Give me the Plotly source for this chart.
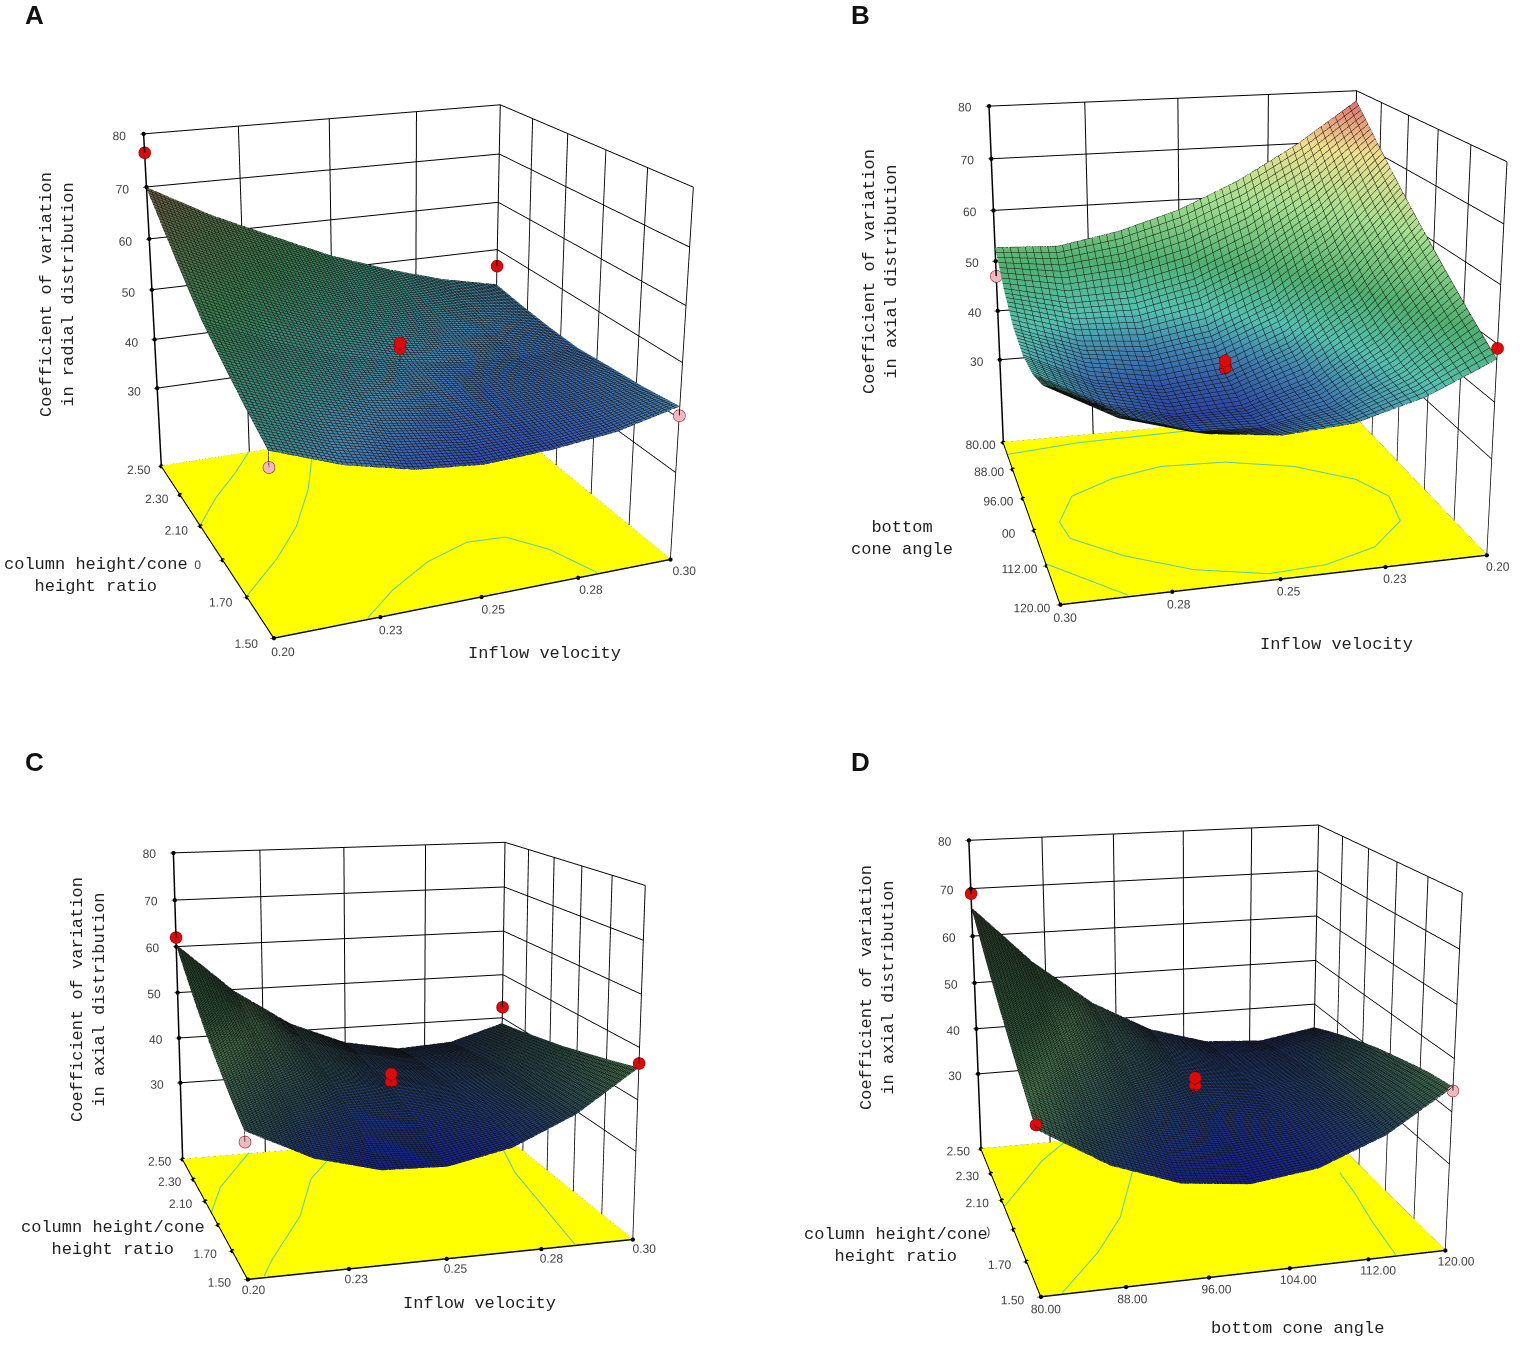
"""
Four response surface panels (A-D) drawn as 3D scenes on one page.
"""
import math
import plotly.graph_objects as go

WIDTH = 1535
HEIGHT = 1349
# scenes need a long focal length, so the plot runs past the window top and bottom
PAD_TOP = 360
PAD_BOTTOM = 370
SCENE_H = 1350
FULL_H = HEIGHT + PAD_TOP + PAD_BOTTOM

Z_TICKS = [30, 40, 50, 60, 70, 80]
Z_TEXT = ["30", "40", "50", "60", "70", "80"]

VEL_TICKS = [0.20, 0.225, 0.25, 0.275, 0.30]
VEL_TEXT = ["0.20", "0.23", "0.25", "0.28", "0.30"]
RATIO_TICKS = [1.5, 1.7, 1.9, 2.1, 2.3, 2.5]
ANGLE_TICKS = [80, 88, 96, 104, 112, 120]

RED = "#dd0a0a"
PINK = "#f2b8c0"

# panel A
a_x = [0.20, 0.2167, 0.2333, 0.25, 0.2667, 0.2833, 0.30]
a_y = [1.5, 1.667, 1.833, 2.0, 2.167, 2.333, 2.5]
a_z = [
    [45.8, 41.4, 38.6, 37.5, 38.1, 39.4, 42.2],
    [48.6, 44.1, 41.0, 39.3, 39.1, 39.8, 41.4],
    [51.8, 47.1, 43.4, 41.1, 40.0, 40.0, 41.0],
    [55.2, 49.9, 45.8, 42.8, 41.0, 40.2, 40.5],
    [59.9, 54.4, 49.6, 46.0, 43.2, 41.5, 40.9],
    [64.8, 58.8, 53.6, 49.1, 45.7, 43.2, 41.6],
    [69.9, 63.4, 58.0, 52.7, 48.5, 45.0, 42.5],
]
a_pts_x = [0.20, 0.30, 0.25, 0.25, 0.30, 0.20]
a_pts_y = [2.5, 2.5, 2.0, 2.0, 1.5, 1.5]
a_pts_z = [76.5, 46.5, 46.4, 45.4, 40.5, 43.0]
a_surf_z = [69.9, 42.5, 42.8, 42.8, 42.2, 45.8]
a_pts_color = [RED, RED, RED, RED, PINK, PINK]
a_lines = [
    ([0.225, 0.217, 0.208, 0.20], [2.5, 2.37, 2.24, 2.1]),
    ([0.20, 0.212, 0.222, 0.232, 0.24, 0.247], [1.7, 1.85, 2.0, 2.2, 2.4, 2.5]),
    ([0.222, 0.232, 0.245, 0.258, 0.268, 0.275, 0.28], [1.5, 1.6, 1.7, 1.76, 1.75, 1.65, 1.5]),
]

# panel B
b_x = [0.30, 0.2833, 0.2667, 0.25, 0.2333, 0.2167, 0.20]
b_y = [120, 113.3, 106.7, 100, 93.3, 86.7, 80]
b_z = [
    [49.0, 42.9, 39.1, 37.7, 38.6, 42.0, 47.4],
    [45.2, 38.5, 35.0, 34.6, 37.3, 43.1, 51.9],
    [43.1, 36.6, 33.5, 34.0, 38.0, 45.6, 56.6],
    [42.6, 36.9, 34.7, 36.0, 41.0, 49.5, 61.6],
    [44.0, 39.7, 38.6, 40.7, 46.1, 54.8, 66.8],
    [47.5, 44.8, 45.1, 48.0, 53.5, 61.7, 72.3],
    [52.7, 52.2, 54.4, 58.0, 63.2, 69.9, 78.0],
]
b_pts_x = [0.20, 0.30, 0.25, 0.25]
b_pts_y = [120, 80, 100, 100]
b_pts_z = [49.3, 47.0, 38.5, 37.1]
b_surf_z = [47.4, 52.7, 36.0, 36.0]
b_pts_color = [RED, PINK, RED, RED]
b_lines = [
    ([0.2935, 0.288, 0.276, 0.262, 0.245, 0.228, 0.215, 0.2105, 0.213, 0.224, 0.238, 0.252, 0.268, 0.282, 0.2925, 0.2935],
     [103, 97, 93.5, 91.5, 92, 95, 100, 105, 111, 116, 118.5, 119, 116.5, 112, 107, 103]),
    ([0.30, 0.28, 0.25, 0.23], [84, 82.5, 82, 82]),
    ([0.30, 0.285], [112, 120]),
]

# panel C
c_x = [0.20, 0.2167, 0.2333, 0.25, 0.2667, 0.2833, 0.30]
c_y = [1.5, 1.667, 1.833, 2.0, 2.167, 2.333, 2.5]
c_z = [
    [40.0, 33.9, 30.7, 30.3, 32.8, 38.1, 46.2],
    [42.5, 36.7, 33.3, 32.5, 34.1, 38.2, 44.6],
    [45.4, 39.4, 35.7, 34.2, 35.0, 38.0, 43.2],
    [48.6, 42.2, 37.8, 35.6, 35.5, 37.6, 41.8],
    [52.2, 44.7, 39.4, 36.3, 35.5, 37.0, 40.7],
    [56.2, 47.2, 40.7, 36.7, 35.2, 36.2, 39.6],
    [60.4, 49.6, 41.6, 36.6, 34.4, 35.1, 38.7],
]
c_pts_x = [0.20, 0.30, 0.25, 0.25, 0.30, 0.20]
c_pts_y = [2.5, 2.5, 2.0, 2.0, 1.5, 1.5]
c_pts_z = [62.0, 42.5, 38.5, 36.8, 47.0, 38.0]
c_surf_z = [60.4, 38.7, 35.6, 35.6, 46.2, 40.0]
c_pts_color = [RED, RED, RED, RED, RED, PINK]
c_lines = [
    ([0.22, 0.213, 0.206, 0.20], [2.5, 2.35, 2.2, 2.0]),
    ([0.204, 0.208, 0.222, 0.232, 0.243], [1.5, 1.6, 1.9, 2.2, 2.4]),
    ([0.284, 0.287, 0.29, 0.296], [1.5, 1.8, 2.1, 2.4]),
]

# panel D
d_x = [80, 86.67, 93.33, 100, 106.67, 113.33, 120]
d_y = [1.5, 1.667, 1.833, 2.0, 2.167, 2.333, 2.5]
d_z = [
    [43.7, 36.0, 31.4, 30.0, 31.7, 36.7, 44.7],
    [47.0, 39.0, 34.0, 32.1, 33.0, 37.0, 43.9],
    [50.4, 42.0, 36.5, 33.7, 33.8, 36.7, 42.5],
    [54.0, 44.9, 38.5, 35.0, 34.2, 36.3, 41.0],
    [57.8, 47.8, 40.5, 36.0, 34.3, 35.3, 39.1],
    [61.8, 50.8, 42.3, 36.8, 34.0, 34.2, 37.0],
    [66.0, 53.5, 43.8, 37.0, 33.3, 32.5, 34.6],
]
d_pts_x = [80, 80, 100, 100, 120]
d_pts_y = [2.5, 1.5, 2.0, 2.0, 1.5]
d_pts_z = [69.0, 44.5, 37.8, 36.2, 44.0]
d_surf_z = [66.0, 43.7, 35.0, 35.0, 44.7]
d_pts_color = [RED, RED, RED, RED, PINK]
d_lines = [
    ([90, 86, 83, 80], [2.5, 2.35, 2.2, 2.05]),
    ([82, 87, 91, 95, 97, 98], [1.5, 1.7, 1.9, 2.2, 2.4, 2.5]),
    ([114.8, 115.5, 116.5, 117], [1.5, 1.7, 1.9, 2.05]),
]

A_SCALE = [
    [0.0, "#2438b0"], [0.15, "#2f4ab0"], [0.24, "#4a85ad"], [0.33, "#3f8a85"],
    [0.5, "#3a8050"], [0.7, "#5a6a45"], [0.84, "#7a5a45"], [1.0, "#a04a40"],
]
B_SCALE = [
    [0.0, "#20309a"], [0.06, "#2a3fa0"], [0.16, "#3f7fb0"], [0.26, "#55c0b0"],
    [0.4, "#50b070"], [0.6, "#a5e090"], [0.8, "#f0e090"], [0.96, "#e07070"], [1.0, "#e06060"],
]
CD_SCALE = [
    [0.0, "#151f90"], [0.1, "#1f3a70"], [0.16, "#284a58"], [0.32, "#4a7a50"],
    [0.4, "#2f5a3a"], [0.6, "#2a4a30"], [0.72, "#3a4030"], [1.0, "#604030"],
]
TEXT_FONT = dict(family="Liberation Mono, monospace", size=17, color="#222222")
CONTOUR_COLOR = "#55ccaa"


def camera(theta, phi, dist, flip=False):
    t, p = math.radians(theta), math.radians(phi)
    sign = 1 if flip else -1
    return dict(
        up=dict(x=0, y=0, z=1),
        center=dict(x=0, y=0, z=0),
        eye=dict(
            x=sign * math.sin(t) * math.cos(p) * dist,
            y=sign * math.cos(t) * math.cos(p) * dist,
            z=math.sin(p) * dist,
        ),
        projection=dict(type="perspective"),
    )


def axis(lo, hi, ticks, text):
    return dict(
        range=[lo, hi],
        tickvals=ticks,
        ticktext=text,
        tickangle=0,
        title=dict(text=""),
        showgrid=True,
        gridcolor="#000000",
        gridwidth=2,
        showline=True,
        linecolor="#000000",
        linewidth=3,
        zeroline=False,
        showbackground=False,
        showspikes=False,
        ticks="outside",
        ticklen=3,
        tickcolor="#000000",
        tickfont=dict(family="Liberation Sans, Arial", size=12, color="#444444"),
    )


def add_panel(fig, name, x, y, z, pts, surf_z, pts_color, lines, floor, n_mesh, scale,
              view, cube, half_w, aspect, x_ticks, y_ticks, near):
    xlo, xhi = min(x), max(x)
    ylo, yhi = min(y), max(y)
    fig.add_trace(go.Surface(
        x=[xlo, xhi], y=[ylo, yhi], z=[[floor + 0.1, floor + 0.1], [floor + 0.1, floor + 0.1]],
        colorscale=[[0, "#ffff00"], [1, "#ffff00"]], cmin=0, cmax=100, showscale=False, hoverinfo="skip",
        lighting=dict(ambient=1, diffuse=0, specular=0, fresnel=0),
        scene=name,
    ))
    fig.add_trace(go.Surface(
        x=x, y=y, z=z, colorscale=scale, cmin=30, cmax=80, showscale=False,
        lighting=dict(ambient=0.9, diffuse=0.2, specular=0.0, fresnel=0),
        contours=dict(
            x=dict(show=True, start=xlo, end=xhi, size=(xhi - xlo) / n_mesh, color="#101010", width=1),
            y=dict(show=True, start=ylo, end=yhi, size=(yhi - ylo) / n_mesh, color="#101010", width=1),
        ),
        scene=name,
    ))
    for lx, ly in lines:
        fig.add_trace(go.Scatter3d(
            x=lx, y=ly, z=[floor + 0.3] * len(lx), mode="lines",
            line=dict(color=CONTOUR_COLOR, width=2), showlegend=False, scene=name,
        ))
    for i in range(len(pts[0])):
        fig.add_trace(go.Scatter3d(
            x=[pts[0][i]] * 2, y=[pts[1][i]] * 2, z=[pts[2][i], surf_z[i]], mode="lines",
            line=dict(color="#222222", width=1.5), showlegend=False, scene=name,
        ))
    fig.add_trace(go.Scatter3d(
        x=pts[0], y=pts[1], z=pts[2], mode="markers",
        marker=dict(size=7, color=pts_color, line=dict(color="#800000", width=1)),
        showlegend=False, scene=name,
    ))
    # black dots where the axes carry a tick
    near_x, near_y, far_y = near
    fig.add_trace(go.Scatter3d(
        x=list(x_ticks[0]) + [near_x] * len(y_ticks[0]) + [near_x] * len(Z_TICKS),
        y=[near_y] * len(x_ticks[0]) + list(y_ticks[0]) + [far_y] * len(Z_TICKS),
        z=[floor] * (len(x_ticks[0]) + len(y_ticks[0])) + Z_TICKS,
        mode="markers", marker=dict(size=2.5, color="#000000"), showlegend=False, scene=name,
    ))
    top = cube[1] + PAD_TOP - SCENE_H / 2
    return dict(
        domain=dict(
            x=[(cube[0] - half_w) / WIDTH, (cube[0] + half_w) / WIDTH],
            y=[1 - (top + SCENE_H) / FULL_H, 1 - top / FULL_H],
        ),
        bgcolor="rgba(0,0,0,0)",
        aspectmode="manual",
        aspectratio=dict(x=1, y=1, z=aspect),
        camera=view,
        xaxis=axis(xlo, xhi, x_ticks[0], x_ticks[1]),
        yaxis=axis(ylo, yhi, y_ticks[0], y_ticks[1]),
        zaxis=axis(floor, 80, Z_TICKS, Z_TEXT),
    )


fig = go.Figure()

scene_a = add_panel(
    fig, "scene", a_x, a_y, a_z, (a_pts_x, a_pts_y, a_pts_z), a_surf_z, a_pts_color, a_lines,
    13.5, 90, A_SCALE, camera(22, 19.5, 4.03), (400, 341), 400, 0.92,
    (VEL_TICKS, VEL_TEXT), (RATIO_TICKS, ["1.50", "1.70", "0", "2.10", "2.30", "2.50"]), (0.20, 1.5, 2.5),
)
scene_b = add_panel(
    fig, "scene2", b_x, b_y, b_z, (b_pts_x, b_pts_y, b_pts_z), b_surf_z, b_pts_color, b_lines,
    12.6, 50, B_SCALE, camera(14.5, 17, 4.0, flip=True), (1225, 319), 310, 0.93,
    (VEL_TICKS, VEL_TEXT), (ANGLE_TICKS, ["80.00", "88.00", "96.00", "00", "112.00", "120.00"]), (0.30, 120, 80),
)
scene_c = add_panel(
    fig, "scene3", c_x, c_y, c_z, (c_pts_x, c_pts_y, c_pts_z), c_surf_z, c_pts_color, c_lines,
    12.6, 90, CD_SCALE, camera(16, 13, 4.4), (391, 1036), 391, 0.91,
    (VEL_TICKS, VEL_TEXT), (RATIO_TICKS, ["1.50", "1.70", "", "2.10", "2.30", "2.50"]), (0.20, 1.5, 2.5),
)
scene_d = add_panel(
    fig, "scene4", d_x, d_y, d_z, (d_pts_x, d_pts_y, d_pts_z), d_surf_z, d_pts_color, d_lines,
    13.0, 90, CD_SCALE, camera(15, 16.5, 4.2), (1195, 1035), 339, 0.89,
    (ANGLE_TICKS, ["80.00", "88.00", "96.00", "104.00", "112.00", "120.00"]),
    (RATIO_TICKS, ["1.50", "1.70", ")", "2.10", "2.30", "2.50"]), (80, 1.5, 2.5),
)


def note(text, px, py, angle=0, font=TEXT_FONT):
    return dict(
        text=text, x=px / WIDTH, y=1 - (py + PAD_TOP) / FULL_H, xref="paper", yref="paper",
        showarrow=False, textangle=angle, font=font, xanchor="center", yanchor="middle", align="center",
    )


LETTER = dict(family="Liberation Sans, Arial", size=26, color="#111111")
notes = [
    note("<b>A</b>", 34, 15, font=LETTER),
    note("<b>B</b>", 860, 15, font=LETTER),
    note("<b>C</b>", 34, 762, font=LETTER),
    note("<b>D</b>", 860, 762, font=LETTER),
    note("Coefficient of variation<br>in radial distribution", 57, 295, -90),
    note("column height/cone<br>height ratio", 96, 575),
    note("Inflow velocity", 544, 653),
    note("Coefficient of variation<br>in axial distribution", 880, 272, -90),
    note("bottom<br>cone angle", 902, 539),
    note("Inflow velocity", 1336, 644),
    note("Coefficient of variation<br>in axial distribution", 88, 1000, -90),
    note("column height/cone<br>height ratio", 113, 1238),
    note("Inflow velocity", 479, 1303),
    note("Coefficient of variation<br>in axial distribution", 877, 988, -90),
    note("column height/cone<br>height ratio", 896, 1245),
    note("bottom cone angle", 1297, 1328),
]

fig.update_layout(
    width=WIDTH,
    height=FULL_H,
    margin=dict(l=0, r=0, t=0, b=0),
    paper_bgcolor="white",
    showlegend=False,
    scene=scene_a,
    scene2=scene_b,
    scene3=scene_c,
    scene4=scene_d,
    annotations=notes,
)

fig.write_html(
    "out.html",
    config=dict(displayModeBar=False),
    post_script=(
        "document.documentElement.style.overflow='hidden';"
        "document.body.style.overflow='hidden';"
        "document.body.style.margin='0';"
        f"document.querySelector('.plotly-graph-div').style.marginTop='-{PAD_TOP}px';"
    ),
)
